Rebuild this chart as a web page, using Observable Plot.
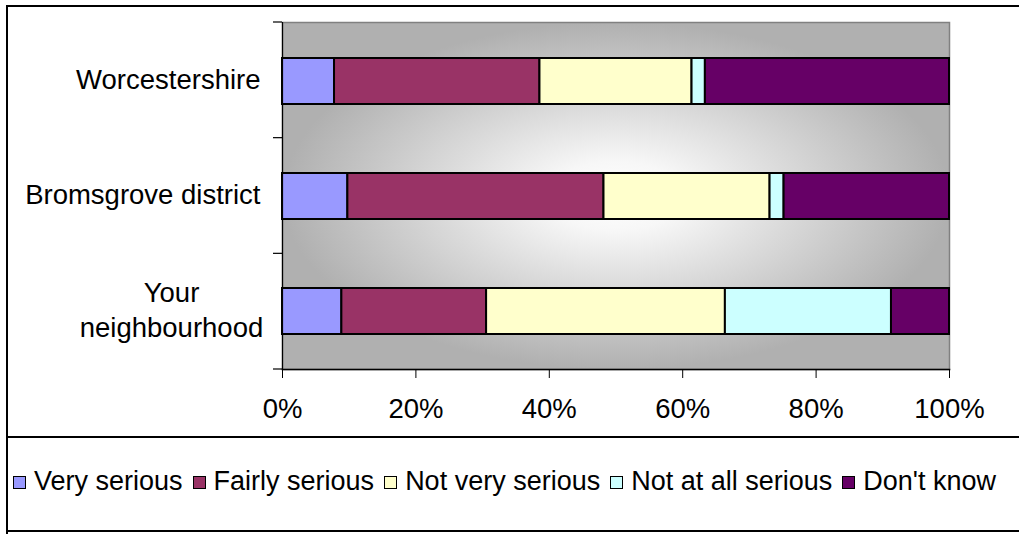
<!DOCTYPE html>
<html>
<head>
<meta charset="utf-8">
<script src="https://cdn.jsdelivr.net/npm/d3@7"></script>
<script src="https://cdn.jsdelivr.net/npm/@observablehq/plot@0.6"></script>
<style>
  body { margin: 0; background: #fff; font-family: "Liberation Sans", Arial, sans-serif; }
  #wrap { position: relative; width: 1019px; height: 534px; overflow: hidden; background: #fff; }
  #chart { position: absolute; left: 0; top: 0; }
  .ln { position: absolute; background: #000; }
  #legend { position: absolute; left: 13px; top: 463px; white-space: nowrap; font-size: 27px; line-height: 37px; color: #000; }
  .item { display: inline-block; margin-right: 10px; }
  .sw { display: inline-block; width: 11px; height: 11px; border: 1.5px solid #000; margin-right: 8px; vertical-align: 1px; }
</style>
</head>
<body>
<div id="wrap">
  <div id="chart"></div>
  <div class="ln" style="left:6px;top:5px;width:1013px;height:2px;"></div>
  <div class="ln" style="left:6px;top:5px;width:2px;height:529px;"></div>
  <div class="ln" style="left:6px;top:436px;width:1013px;height:1.5px;"></div>
  <div class="ln" style="left:6px;top:530px;width:1013px;height:2px;"></div>
  <div id="legend"></div>
</div>
<script>
const categories = ["Worcestershire", "Bromsgrove district", "Your neighbourhood"];
const seriesNames = ["Very serious", "Fairly serious", "Not very serious", "Not at all serious", "Don't know"];
const worcestershire = [7.8, 30.8, 22.8, 2.0, 36.6];
const bromsgrove = [9.8, 38.4, 24.9, 2.1, 24.8];
const neighbourhood = [8.9, 21.7, 35.8, 24.9, 8.7];
const colors = ["#9999FF", "#993366", "#FFFFCC", "#CCFFFF", "#660066"];
const xTicks = [0, 20, 40, 60, 80, 100];

const valuesByCategory = [worcestershire, bromsgrove, neighbourhood];
const data = categories.flatMap((c, i) =>
  seriesNames.map((s, j) => ({category: c, series: s, value: valuesByCategory[i][j]}))
);

const defsMark = () => {
  const defs = d3.create("svg:defs");
  const g = defs.append("radialGradient").attr("id", "bgGrad")
    .attr("cx", "0.5").attr("cy", "0.5").attr("r", "0.5");
  g.append("stop").attr("offset", "0").attr("stop-color", "#ffffff");
  g.append("stop").attr("offset", "0.2").attr("stop-color", "#f7f7f7");
  g.append("stop").attr("offset", "1").attr("stop-color", "#b0b0b0");
  return defs.node();
};

const yTicksMark = (index, scales, values, dims) => {
  const g = d3.create("svg:g");
  const h = dims.height - dims.marginTop - dims.marginBottom;
  for (let i = 0; i <= categories.length; i++) {
    const y = dims.marginTop + i * h / categories.length;
    g.append("line").attr("x1", dims.marginLeft - 9).attr("x2", dims.marginLeft)
      .attr("y1", y).attr("y2", y).attr("stroke", "#000").attr("stroke-width", 1.2);
  }
  return g.node();
};

const chart = Plot.plot({
  width: 1019,
  height: 436,
  marginLeft: 282,
  marginRight: 70,
  marginTop: 22,
  marginBottom: 67,
  style: {fontFamily: "'Liberation Sans', Arial, sans-serif", fontSize: "27px", color: "#000", background: "transparent", overflow: "visible"},
  x: {domain: [0, 100]},
  y: {domain: categories, paddingInner: 0.6, paddingOuter: 0.3, axis: null},
  color: {domain: seriesNames, range: colors},
  marks: [
    defsMark,
    Plot.frame({fill: "url(#bgGrad)", stroke: "#808080", strokeWidth: 1.5}),
    Plot.barX(data, {x: "value", y: "category", fill: "series", stroke: "#000", strokeWidth: 2}),
    Plot.frame({anchor: "bottom", stroke: "#000", strokeWidth: 1.5}),
    Plot.frame({anchor: "left", stroke: "#000", strokeWidth: 1.2}),
    Plot.axisX(xTicks, {tickFormat: d => d + "%", tickSize: 9, tickPadding: 20, label: null, fontSize: 27.5, stroke: "#000"}),
    yTicksMark,
    Plot.text(categories.slice(0, 2), {y: d => d, text: d => d, frameAnchor: "left", textAnchor: "end", dx: -22, dy: -1, fontSize: 27.5, fill: "#000"}),
    Plot.text(categories.slice(2), {y: d => d, text: d => "Your\nneighbourhood", frameAnchor: "left", textAnchor: "middle", dx: -111, dy: -3, fontSize: 27.5, lineHeight: 1.27, fill: "#000"})
  ]
});
document.getElementById("chart").appendChild(chart);

const legend = document.getElementById("legend");
seriesNames.forEach((s, i) => {
  const item = document.createElement("span");
  item.className = "item";
  const sw = document.createElement("span");
  sw.className = "sw";
  sw.style.background = colors[i];
  item.appendChild(sw);
  item.appendChild(document.createTextNode(s));
  legend.appendChild(item);
});
</script>
</body>
</html>
